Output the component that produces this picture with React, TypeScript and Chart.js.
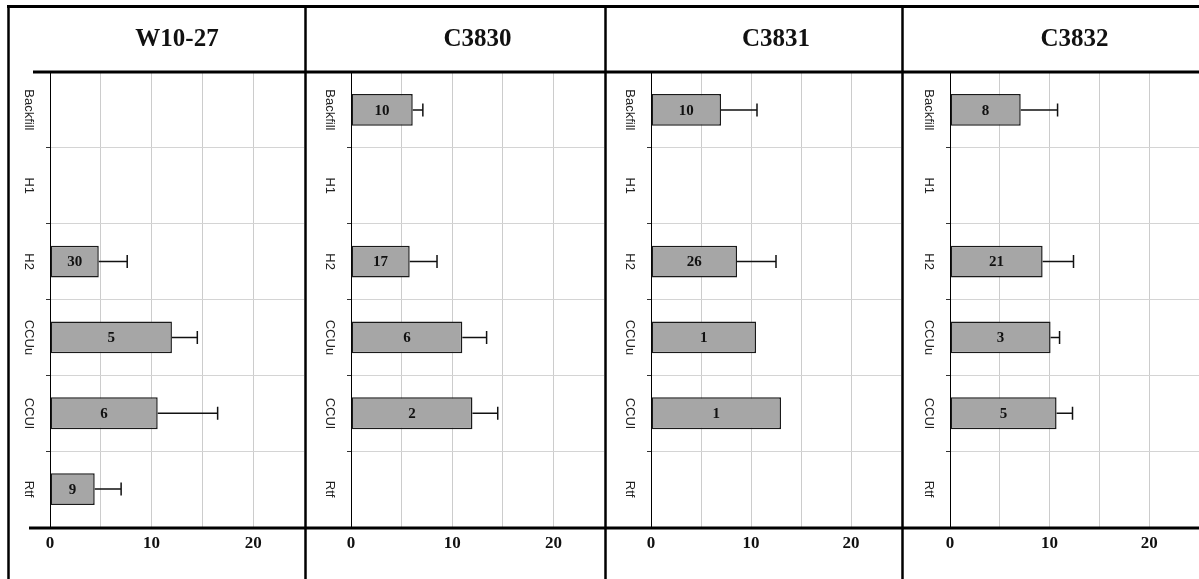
import { useEffect, useRef } from 'react';
import { Chart, registerables } from 'chart.js';

Chart.register(...registerables);

// Category rows (top to bottom) and panel names
const categories = ['Backfill', 'H1', 'H2', 'CCUu', 'CCUl', 'Rtf'];
const panelTitles = ['W10-27', 'C3830', 'C3831', 'C3832'];
const xTickLabels = ['0', '10', '20'];

// Mean values per category
const meansW1027 = [null, null, 4.8, 12.0, 10.6, 4.4];
const meansC3830 = [6.1, null, 5.8, 11.0, 12.0, null];
const meansC3831 = [7.0, null, 8.6, 10.5, 13.0, null];
const meansC3832 = [7.1, null, 9.3, 10.1, 10.7, null];

// Upper end of the error bar (mean + error)
const upperW1027 = [null, null, 7.6, 14.5, 16.5, 7.0];
const upperC3830 = [7.1, null, 8.5, 13.4, 14.5, null];
const upperC3831 = [10.6, null, 12.5, null, null, null];
const upperC3832 = [10.8, null, 12.4, 11.0, 12.3, null];

// Sample counts printed inside each bar
const countsW1027 = [null, null, 30, 5, 6, 9];
const countsC3830 = [10, null, 17, 6, 2, null];
const countsC3831 = [10, null, 26, 1, 1, null];
const countsC3832 = [8, null, 21, 3, 5, null];

const panelMeans = [meansW1027, meansC3830, meansC3831, meansC3832];
const panelUpper = [upperW1027, upperC3830, upperC3831, upperC3832];
const panelCounts = [countsW1027, countsC3830, countsC3831, countsC3832];

// Placement of each panel's canvas on the page
const CANVAS_TOP = 5;
const CANVAS_HEIGHT = 574;
const panelLayout = [
  { left: 7, width: 297, axisWidth: 43, topRuleStart: 26, bottomRuleStart: 22 },
  { left: 304, width: 300, axisWidth: 47, topRuleStart: 0, bottomRuleStart: 0 },
  { left: 604, width: 297, axisWidth: 47, topRuleStart: 0, bottomRuleStart: 0 },
  { left: 901, width: 298, axisWidth: 49, topRuleStart: 0, bottomRuleStart: 0 },
];

const SERIF = '"Liberation Serif", "Times New Roman", Times, serif';
const SANS = '"Liberation Sans", Arial, Helvetica, sans-serif';

// Frame: outer top edge, left divider, and the heavy rules above/below the plot
const framePlugin = {
  id: 'frame',
  afterDraw(chart: any, _args: any, opts: any) {
    const { ctx, chartArea, width, height } = chart;
    ctx.save();
    ctx.strokeStyle = '#000';
    ctx.lineCap = 'butt';
    const seg = (x1: number, y1: number, x2: number, y2: number, w: number) => {
      ctx.lineWidth = w;
      ctx.beginPath();
      ctx.moveTo(x1, y1);
      ctx.lineTo(x2, y2);
      ctx.stroke();
    };
    seg(0, 1.5, width, 1.5, 3);
    seg(1.5, 0, 1.5, height, 2.5);
    seg(opts.topRuleStart, chartArea.top, width, chartArea.top, 3);
    seg(opts.bottomRuleStart, chartArea.bottom + 1, width, chartArea.bottom + 1, 3);
    ctx.restore();
  },
};

// Error whiskers and count labels on the bars
const barExtrasPlugin = {
  id: 'barExtras',
  afterDatasetsDraw(chart: any, _args: any, opts: any) {
    const { ctx } = chart;
    const xScale = chart.scales.x;
    const meta = chart.getDatasetMeta(0);
    const means: (number | null)[] = opts.means;
    const upper: (number | null)[] = opts.upper;
    const counts: (number | null)[] = opts.counts;
    ctx.save();
    meta.data.forEach((bar: any, i: number) => {
      const mean = means[i];
      if (mean == null) return;
      const up = upper[i];
      if (up != null) {
        const xa = xScale.getPixelForValue(mean);
        const xb = xScale.getPixelForValue(up);
        ctx.strokeStyle = '#111';
        ctx.lineWidth = 1.5;
        ctx.beginPath();
        ctx.moveTo(xa, bar.y);
        ctx.lineTo(xb, bar.y);
        ctx.moveTo(xb, bar.y - 6.5);
        ctx.lineTo(xb, bar.y + 6.5);
        ctx.stroke();
      }
      const n = counts[i];
      if (n != null) {
        ctx.fillStyle = '#111';
        ctx.font = `bold 15px ${SERIF}`;
        ctx.textAlign = 'center';
        ctx.textBaseline = 'middle';
        ctx.fillText(String(n), (bar.x + bar.base) / 2, bar.y + 1);
      }
    });
    ctx.restore();
  },
};

function Panel({ index }: { index: number }) {
  const ref = useRef<HTMLCanvasElement | null>(null);
  const layout = panelLayout[index];

  useEffect(() => {
    if (!ref.current) return;
    const chart = new Chart(ref.current, {
      type: 'bar',
      data: {
        labels: categories,
        datasets: [
          {
            data: panelMeans[index] as any,
            backgroundColor: '#a6a6a6',
            borderColor: '#1a1a1a',
            borderWidth: 1.5,
            borderSkipped: false,
            barPercentage: 0.42,
            categoryPercentage: 1,
          },
        ],
      },
      options: {
        indexAxis: 'y',
        animation: false,
        responsive: false,
        maintainAspectRatio: false,
        layout: { padding: 0 },
        plugins: {
          legend: { display: false },
          tooltip: { enabled: false },
          title: {
            display: true,
            text: panelTitles[index],
            fullSize: false,
            color: '#111',
            font: { family: SERIF, size: 25, weight: 'bold' },
            padding: { top: 20, bottom: 17 },
          },
          frame: {
            topRuleStart: layout.topRuleStart,
            bottomRuleStart: layout.bottomRuleStart,
          },
          barExtras: {
            means: panelMeans[index],
            upper: panelUpper[index],
            counts: panelCounts[index],
          },
        } as any,
        scales: {
          x: {
            type: 'linear',
            position: 'bottom',
            min: 0,
            max: 25,
            border: { display: false },
            grid: {
              color: '#cccccc',
              lineWidth: 1,
              drawTicks: true,
              tickLength: 6,
              tickColor: 'rgba(0,0,0,0)',
            },
            ticks: {
              stepSize: 5,
              autoSkip: false,
              maxRotation: 0,
              padding: 0,
              color: '#111',
              font: { family: SERIF, size: 17, weight: 'bold' },
              callback: (v: any) => (xTickLabels.includes(String(v)) ? String(v) : ''),
            },
            afterFit: (s: any) => {
              s.height = 52;
            },
          },
          y: {
            type: 'category',
            offset: true,
            grid: {
              offset: true,
              color: '#d4d4d4',
              lineWidth: 1,
              tickColor: '#333',
              tickLength: 4,
            },
            border: { display: true, color: '#000', width: 1 },
            ticks: {
              minRotation: -90,
              maxRotation: -90,
              crossAlign: 'center',
              padding: -3.5,
              color: '#222',
              font: { family: SANS, size: 13 },
            },
            afterFit: (s: any) => {
              s.width = layout.axisWidth;
            },
          },
        },
      } as any,
      plugins: [framePlugin, barExtrasPlugin],
    });
    return () => chart.destroy();
  }, [index]);

  return (
    <canvas
      ref={ref}
      width={layout.width}
      height={CANVAS_HEIGHT}
      style={{
        position: 'absolute',
        left: layout.left,
        top: CANVAS_TOP,
        width: layout.width,
        height: CANVAS_HEIGHT,
        display: 'block',
      }}
    />
  );
}

export default function App() {
  return (
    <div
      style={{
        position: 'absolute',
        left: 0,
        top: 0,
        width: 1199,
        height: 579,
        background: '#fff',
        overflow: 'hidden',
      }}
    >
      {panelTitles.map((_, i) => (
        <Panel key={i} index={i} />
      ))}
    </div>
  );
}
